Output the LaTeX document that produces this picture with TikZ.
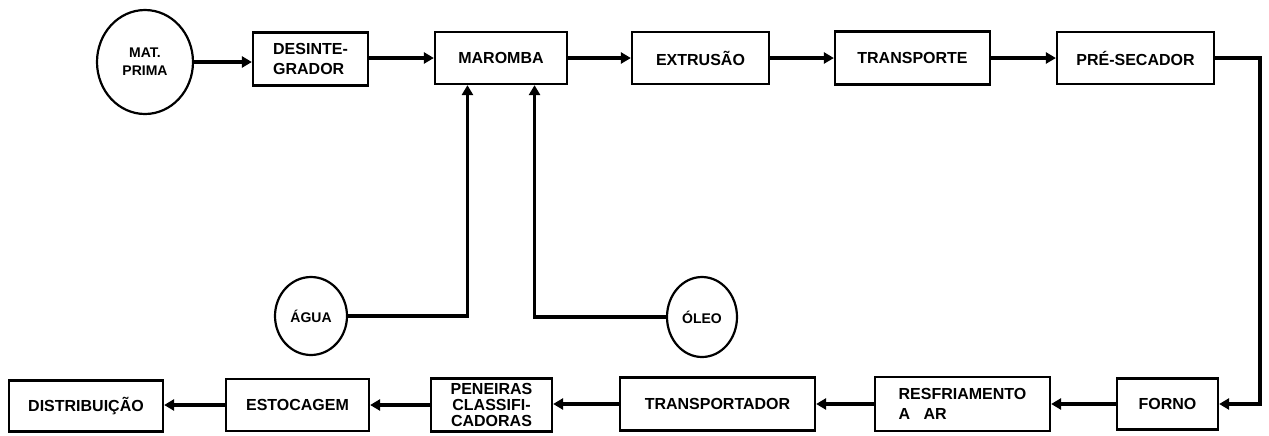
\documentclass[tikz,border=0pt]{standalone}
\usepackage{fontspec}
\setmainfont{Liberation Sans}
\usetikzlibrary{arrows.meta,calc,shapes.geometric}
\begin{document}
\begin{tikzpicture}[x=0.5pt,y=-0.5pt,
  blk/.style={draw,line width=1.1pt,inner sep=1pt,font=\fontsize{8}{10}\selectfont\bfseries,align=center},
  circ/.style={draw,ellipse,line width=1.1pt,inner sep=0pt,font=\fontsize{7}{9}\selectfont\bfseries,align=center},
  flow/.style={line width=1.6pt,-{Triangle[length=5pt,width=5.5pt]}},
]
\useasboundingbox (0,0) rectangle (1269,435);

% top row
\node[circ,minimum width=48pt,minimum height=52pt] (mat) at (145,62) {MAT.\\PRIMA};
\node[blk,minimum width=57.5pt,minimum height=26.5pt,align=left] (desint) at (310.5,59) {DESINTE-\\GRADOR};
\node[blk,minimum width=66pt,minimum height=26pt] (maromba) at (501,58) {MAROMBA};
\node[blk,minimum width=68.5pt,minimum height=26pt] (extr) at (700.5,58) {EXTRUSÃO};
\node[blk,minimum width=77.5pt,minimum height=26.5pt] (transp) at (912.5,58) {TRANSPORTE};
\node[blk,minimum width=78.5pt,minimum height=26pt] (preseq) at (1135.5,58) {PRÉ-SECADOR};

% inputs
\node[circ,minimum width=36pt,minimum height=39pt] (agua) at (311,316) {ÁGUA};
\node[circ,minimum width=35pt,minimum height=40pt] (oleo) at (702,317) {ÓLEO};

% bottom row
\node[blk,minimum width=50.5pt,minimum height=25.5pt] (forno) at (1167.5,404) {FORNO};
\node[blk,minimum width=87.5pt,minimum height=27pt,align=left] (resf) at (962.5,404) {RESFRIAMENTO\\A~~~AR};
\node[blk,minimum width=97.5pt,minimum height=26.5pt] (transpdr) at (717.5,404) {TRANSPORTADOR};
\node[blk,minimum width=60.5pt,minimum height=26.5pt,inner sep=0pt,font=\fontsize{8}{8}\selectfont\bfseries] (pen) at (491.5,405) {PENEIRAS\\CLASSIFI-\\CADORAS};
\node[blk,minimum width=71.5pt,minimum height=26pt] (estoc) at (297.5,405) {ESTOCAGEM};
\node[blk,minimum width=77pt,minimum height=25.5pt] (distr) at (86,406) {DISTRIBUIÇÃO};

\coordinate (m1) at ($(maromba.south west)!0.25!(maromba.south east)$);
\coordinate (m2) at ($(maromba.south west)!0.75!(maromba.south east)$);
\coordinate (rt) at (1260,58);

% connectors
\draw[flow] (mat.east) -- (mat.east -| desint.west);
\draw[flow] (desint.east |- maromba) -- (maromba.west);
\draw[flow] (maromba) -- (extr);
\draw[flow] (extr) -- (transp);
\draw[flow] (transp) -- (preseq);
\draw[flow] (preseq.east) -- (rt) |- (forno.east);
\draw[flow] (agua.east) -| (m1);
\draw[flow] (oleo.west) -| (m2);
\draw[flow] (forno.west) -- (forno.west -| resf.east);
\draw[flow] (resf.west) -- (resf.west -| transpdr.east);
\draw[flow] (transpdr.west) -- (transpdr.west -| pen.east);
\draw[flow] (pen.west) -- (pen.west -| estoc.east);
\draw[flow] (estoc.west) -- (estoc.west -| distr.east);
\end{tikzpicture}
\end{document}
